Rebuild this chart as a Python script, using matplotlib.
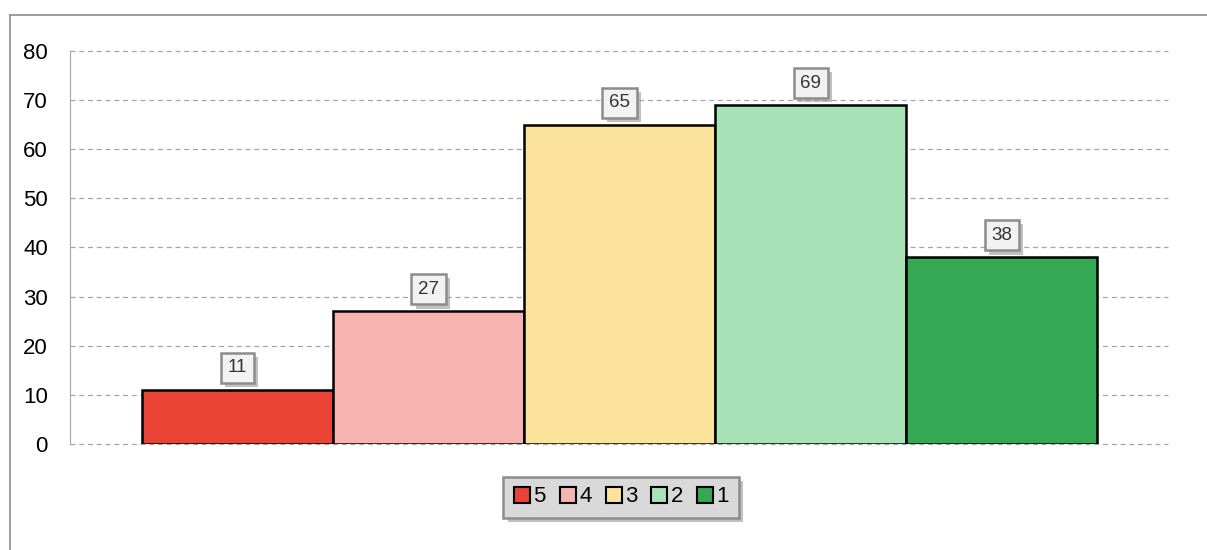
import numpy as np
import matplotlib.pyplot as plt
from matplotlib import patheffects as pe
from matplotlib.lines import Line2D

plt.rcParams['font.family'] = ['Liberation Sans', 'DejaVu Sans']

categories = ['5', '4', '3', '2', '1']
values = [11, 27, 65, 69, 38]
colors = ['#ea4335', '#f6b3b0', '#fbe39c', '#a8e3b7', '#34a853']

fig = plt.figure(figsize=(12.07, 5.5), dpi=100)
ax = fig.add_axes([70/1207, 1-444/550, 1098/1207, 393/550])

x = np.arange(len(values))
ax.bar(x, values, width=1.0, color=colors, edgecolor='black', linewidth=1.8, zorder=3)

ax.set_ylim(0, 80)
ax.set_xlim(-0.5 - 72/191, 4.5 + 71/191)
ax.set_yticks(range(0, 81, 10))
ax.set_xticks([])
ax.yaxis.grid(True, linestyle=(0, (4, 3)), color='#a6a6a6', linewidth=0.9, clip_on=False)
ax.set_axisbelow(True)
for s in ['top', 'right', 'bottom']:
    ax.spines[s].set_visible(False)
ax.spines['left'].set_color('#a6a6a6')
ax.tick_params(axis='y', length=0, labelsize=16, pad=16)

shadow = [pe.SimplePatchShadow(offset=(3, -3), shadow_rgbFace='#999999', alpha=0.6), pe.Normal()]
for xi, v in zip(x, values):
    t = ax.annotate(str(v), (xi, v), xytext=(0, 22), textcoords='offset pixels',
                    ha='center', va='center', fontsize=13.5, color='#333333', zorder=5,
                    bbox=dict(boxstyle='square,pad=0.35', fc='#f2f2f2', ec='#8c8c8c', lw=1.8))
    t.get_bbox_patch().set_path_effects(shadow)

handles = [Line2D([], [], marker='s', linestyle='none', markersize=11, markerfacecolor=c,
                  markeredgecolor='black', markeredgewidth=1.5) for c in colors]
leg = fig.legend(handles, categories, loc='center', bbox_to_anchor=(621/1207, 1-497/550),
                 ncol=5, fontsize=16, frameon=True, fancybox=False, handlelength=0.8,
                 handletextpad=0.1, columnspacing=0.6, borderpad=0.45)
frame = leg.get_frame()
frame.set_facecolor('#d9d9d9')
frame.set_edgecolor('#8c8c8c')
frame.set_linewidth(1.8)
frame.set_alpha(1)
frame.set_path_effects(shadow)

# outer chart border (cut at right and bottom)
fig.add_artist(Line2D([10/1207, 10/1207], [0, 1-15/550], transform=fig.transFigure, color='#8c8c8c', lw=1.2))
fig.add_artist(Line2D([10/1207, 1], [1-15/550, 1-15/550], transform=fig.transFigure, color='#8c8c8c', lw=1.2))

fig.savefig('out.png', dpi=100)
